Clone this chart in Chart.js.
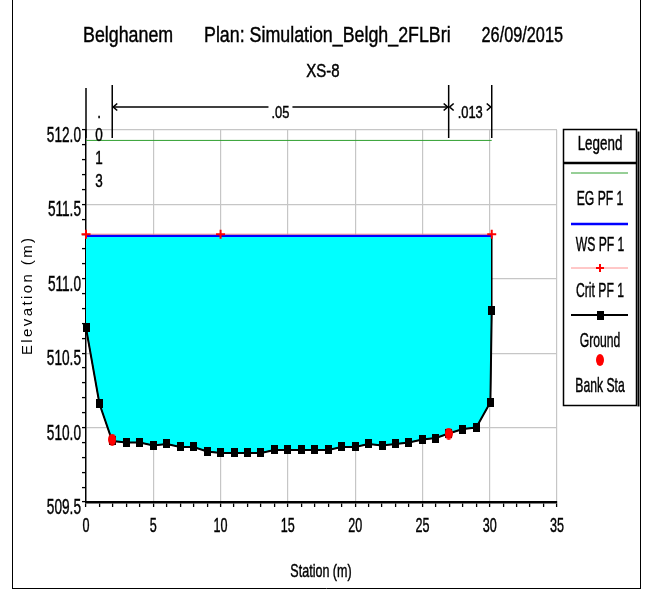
<!DOCTYPE html>
<html>
<head>
<meta charset="utf-8">
<title>XS-8</title>
<script src="https://cdn.jsdelivr.net/npm/chart.js@4.4.1/dist/chart.umd.min.js"></script>
<style>
    html, body { margin: 0; padding: 0; background: #fff; }
    #wrap { width: 645px; height: 590px; }
</style>
</head>
<body>
<div id="wrap"><canvas id="xsChart" width="645" height="590"></canvas></div>
<script>
/* -------------------------------------------------------------------------- */
/*  DONNÉES - profil XS-8                                                     */
/* -------------------------------------------------------------------------- */

const GROUND_STA  = [0, 1, 1.95, 3, 4, 5, 6, 7, 8, 9, 10, 11, 12, 13, 14, 15, 16, 17, 18,
                     19, 20, 21, 22, 23, 24, 25, 26, 26.95, 28, 29, 30.05, 30.15];
const GROUND_ELEV = [510.67, 510.16, 509.91, 509.90, 509.90, 509.88, 509.89, 509.87, 509.87,
                     509.84, 509.83, 509.83, 509.83, 509.83, 509.85, 509.85, 509.85, 509.85,
                     509.85, 509.87, 509.87, 509.89, 509.88, 509.89, 509.90, 509.92, 509.93,
                     509.96, 509.99, 510.00, 510.17, 510.79];

const BANK_STA  = [1.95, 26.95];
const BANK_ELEV = [509.92, 509.96];

const EDGE_STA  = [0, 30.15];          // limites de la ligne d'eau
const WS_ELEV   = 511.29;              // WS PF 1
const EG_ELEV   = 511.93;              // EG PF 1
const CRIT_STA  = [0, 10, 30.15];
const CRIT_ELEV = 511.30;              // Crit PF 1

const N_STA = [0, 1.95, 26.95, 30.15]; // coefficients de Manning
const N_VAL = ['.013', '.05', '.013'];

const Y_LABELS = [509.5, 510.0, 510.5, 511.0, 511.5, 512.0];
const X_LABELS = [0, 5, 10, 15, 20, 25, 30, 35];

const TITLE_PARTS = ['Belghanem', 'Plan: Simulation_Belgh_2FLBri', '26/09/2015'];
const SUBTITLE = 'XS-8';
const LEGEND_ITEMS = ['EG PF 1', 'WS PF 1', 'Crit PF 1', 'Ground', 'Bank Sta'];

/* -------------------------------------------------------------------------- */
/*  UTILITAIRES                                                               */
/* -------------------------------------------------------------------------- */

const FONT = '"Liberation Sans", Arial, sans-serif';
const GRID_GRAY = '#c6c6c6';
const CLEAR = 'rgba(0,0,0,0)';

function pts(xs, ys) {
    return xs.map((x, i) => ({ x, y: Array.isArray(ys) ? ys[i] : ys }));
}

function isStep(v, step) {
    const k = v / step;
    return Math.abs(k - Math.round(k)) < 1e-6;
}

// texte condensé horizontalement (police étroite), un peu épaissi
function sqText(ctx, txt, x, base, size, sx, align) {
    ctx.save();
    ctx.font = `${size}px ${FONT}`;
    ctx.fillStyle = '#000';
    ctx.strokeStyle = '#000';
    ctx.lineWidth = 0.45;
    ctx.textBaseline = 'alphabetic';
    ctx.textAlign = align || 'left';
    ctx.translate(x, base);
    ctx.scale(sx, 1);
    ctx.fillText(txt, 0, 0);
    ctx.strokeText(txt, 0, 0);
    ctx.restore();
}

function makeMarker(w, h, color, round) {
    const c = document.createElement('canvas');
    c.width = w; c.height = h;
    const g = c.getContext('2d');
    g.fillStyle = color;
    if (round) {
        g.beginPath();
        g.ellipse(w / 2, h / 2, w / 2, h / 2, 0, 0, Math.PI * 2);
        g.fill();
    } else {
        g.fillRect(0, 0, w, h);
    }
    return c;
}

const groundMark = makeMarker(7, 9, '#000', false);
const bankMark = makeMarker(8, 12, '#ff0000', true);

// polygone de l'eau : ligne d'eau puis fond parcouru à l'envers
const waterShape = pts(EDGE_STA, WS_ELEV).concat(pts(GROUND_STA, GROUND_ELEV).reverse());

/* -------------------------------------------------------------------------- */
/*  HABILLAGE : titres, graduations, rugosités, légende                       */
/* -------------------------------------------------------------------------- */

function line(ctx, x1, y1, x2, y2, color, w) {
    ctx.save();
    ctx.strokeStyle = color;
    ctx.lineWidth = w;
    ctx.beginPath();
    ctx.moveTo(x1, y1);
    ctx.lineTo(x2, y2);
    ctx.stroke();
    ctx.restore();
}

function arrowHead(ctx, x, y, dir) {
    ctx.save();
    ctx.strokeStyle = '#000';
    ctx.lineWidth = 1.6;
    ctx.beginPath();
    ctx.moveTo(x + dir * 5, y - 3.5);
    ctx.lineTo(x + dir * 1, y);
    ctx.lineTo(x + dir * 5, y + 3.5);
    ctx.stroke();
    ctx.restore();
}

const decorPlugin = {
    id: 'decor',
    afterDraw(chart) {
        const ctx = chart.ctx;
        const xs = chart.scales.x, ys = chart.scales.y;

        // cadre
        line(ctx, 12.5, 0, 12.5, 588, '#000', 1);
        line(ctx, 640.5, 0, 640.5, 588, '#000', 1);
        line(ctx, 12, 588.5, 641, 588.5, '#000', 1);

        // titres
        sqText(ctx, TITLE_PARTS[0], 83, 42, 22, 0.81, 'left');
        sqText(ctx, TITLE_PARTS[1], 204, 42, 22, 0.81, 'left');
        sqText(ctx, TITLE_PARTS[2], 563, 42, 22, 0.74, 'right');
        sqText(ctx, SUBTITLE, 323, 77, 19, 0.79, 'center');

        // graduations
        Y_LABELS.forEach(v => {
            sqText(ctx, v.toFixed(1), 81, ys.getPixelForValue(v) + 12, 22, 0.62, 'right');
        });
        X_LABELS.forEach(v => {
            sqText(ctx, String(v), xs.getPixelForValue(v), 532, 21, 0.6, 'center');
        });
        sqText(ctx, 'Station (m)', 321, 577, 19, 0.66, 'center');

        // titre vertical avec espacement des lettres
        ctx.save();
        ctx.font = `15px ${FONT}`;
        ctx.fillStyle = '#000';
        ctx.textBaseline = 'alphabetic';
        const yTitle = 'Elevation (m)';
        const gap = 2.4;
        const widths = [...yTitle].map(ch => ctx.measureText(ch).width);
        const total = widths.reduce((a, b) => a + b, 0) + gap * (widths.length - 1);
        ctx.translate(27, 296.5);
        ctx.rotate(-Math.PI / 2);
        let cx = -total / 2;
        [...yTitle].forEach((ch, i) => {
            ctx.fillText(ch, cx, 5.4);
            cx += widths[i] + gap;
        });
        ctx.restore();

        // rugosités de Manning au-dessus du profil
        const arrowY = 107;
        N_STA.forEach((s, i) => {
            const px = xs.getPixelForValue(s);
            line(ctx, px, i === 0 ? 88 : 85, px, 138, '#000', 1.5);
        });
        for (let i = 0; i < N_VAL.length; i++) {
            const x1 = xs.getPixelForValue(N_STA[i]);
            const x2 = xs.getPixelForValue(N_STA[i + 1]);
            const mid = (x1 + x2) / 2;
            ctx.font = `17px ${FONT}`;
            const tw = ctx.measureText(N_VAL[i]).width * 0.76;
            if (x2 - x1 < tw + 14) {
                // intervalle trop étroit : texte vertical
                [...N_VAL[i]].forEach((ch, k) => {
                    sqText(ctx, ch, mid, 118 + k * 23, 18, 0.75, 'center');
                });
                continue;
            }
            arrowHead(ctx, x1, arrowY, 1);
            arrowHead(ctx, x2, arrowY, -1);
            const gapL = mid - tw / 2 - 3, gapR = mid + tw / 2 + 3;
            if (gapL > x1 + 6) {
                line(ctx, x1 + 1, arrowY, gapL, arrowY, '#000', 1.5);
                line(ctx, gapR, arrowY, x2 - 1, arrowY, '#000', 1.5);
            }
            sqText(ctx, N_VAL[i], mid, 118, 17, 0.76, 'center');
        }

        // légende
        const L = 563.5, R = 636.5, T = 129.5, B = 405.5, C = 600;
        ctx.save();
        ctx.strokeStyle = '#000';
        ctx.lineWidth = 1.5;
        ctx.strokeRect(L, T, R - L, B - T);
        ctx.restore();
        line(ctx, 638.5, T + 2, 638.5, B + 1, '#000', 2);
        line(ctx, L, 163, R, 163, '#000', 2.5);
        sqText(ctx, 'Legend', C, 150, 20, 0.67, 'center');

        line(ctx, 571, 173, 628, 173, '#2f9f2f', 1);
        sqText(ctx, LEGEND_ITEMS[0], C, 205, 21, 0.58, 'center');
        line(ctx, 571, 224, 628, 224, '#0000ff', 2.5);
        sqText(ctx, LEGEND_ITEMS[1], C, 250.5, 21, 0.58, 'center');
        line(ctx, 571, 268, 628, 268, '#ff9090', 1);
        line(ctx, C - 4, 268, C + 4, 268, '#ff0000', 2);
        line(ctx, C, 264, C, 272, '#ff0000', 2);
        sqText(ctx, LEGEND_ITEMS[2], C, 297, 21, 0.58, 'center');
        line(ctx, 571, 315, 628, 315, '#000', 2);
        ctx.drawImage(groundMark, C - 3.5, 315 - 4.5);
        sqText(ctx, LEGEND_ITEMS[3], C, 347, 21, 0.58, 'center');
        ctx.drawImage(bankMark, C - 4, 360 - 6);
        sqText(ctx, LEGEND_ITEMS[4], C, 392, 21, 0.58, 'center');
    }
};

/* -------------------------------------------------------------------------- */
/*  GRAPHIQUE                                                                 */
/* -------------------------------------------------------------------------- */

new Chart(document.getElementById('xsChart'), {
    type: 'scatter',
    data: {
        datasets: [
            {
                label: 'Bank Sta',
                data: pts(BANK_STA, BANK_ELEV),
                pointStyle: bankMark,
                pointRadius: 5,
                showLine: false,
                clip: false,
                order: 0
            },
            {
                label: 'Ground',
                data: pts(GROUND_STA, GROUND_ELEV),
                showLine: true,
                borderColor: '#000',
                borderWidth: 2,
                pointStyle: groundMark,
                pointRadius: 5,
                clip: false,
                order: 1
            },
            {
                label: 'Crit PF 1',
                data: pts(CRIT_STA, CRIT_ELEV),
                showLine: true,
                borderColor: '#ff9090',
                borderWidth: 1,
                pointStyle: 'cross',
                pointRadius: 4.5,
                pointBorderColor: '#ff0000',
                pointBorderWidth: 2,
                clip: false,
                order: 2
            },
            {
                label: 'WS PF 1',
                data: pts(EDGE_STA, WS_ELEV),
                showLine: true,
                borderColor: '#0000ff',
                borderWidth: 2.5,
                pointRadius: 0,
                order: 3
            },
            {
                label: 'EG PF 1',
                data: pts(EDGE_STA, EG_ELEV),
                showLine: true,
                borderColor: '#2f9f2f',
                borderWidth: 1,
                pointRadius: 0,
                order: 4
            },
            {
                label: 'Water',
                data: waterShape,
                showLine: true,
                fill: 'shape',
                backgroundColor: '#00ffff',
                borderColor: '#000',
                borderWidth: 1,
                pointRadius: 0,
                order: 5
            }
        ]
    },
    options: {
        responsive: false,
        animation: false,
        events: [],
        layout: { padding: { top: 130, right: 88, left: 0, bottom: 0 } },
        plugins: {
            legend: { display: false },
            title: { display: false },
            tooltip: { enabled: false }
        },
        scales: {
            x: {
                type: 'linear',
                min: 0,
                max: 35,
                ticks: { stepSize: 1, display: false, autoSkip: false },
                grid: {
                    color: c => (c.tick && c.tick.value > 0 && isStep(c.tick.value, 5)) ? GRID_GRAY : CLEAR,
                    tickColor: '#000',
                    tickLength: 5,
                    tickWidth: 1.3,
                    lineWidth: 1.2
                },
                border: { color: '#000', width: 2.5 },
                afterFit: s => { s.height = 88; }
            },
            y: {
                type: 'linear',
                min: 509.5,
                max: 512.0,
                ticks: { stepSize: 0.1, display: false, autoSkip: false },
                grid: {
                    color: c => (c.tick && c.tick.value > 509.6 && isStep(c.tick.value, 0.5)) ? GRID_GRAY : CLEAR,
                    tickColor: '#000',
                    tickLength: 4,
                    tickWidth: 1.3,
                    lineWidth: 1.2
                },
                border: { color: '#000', width: 1.5 },
                afterFit: s => { s.width = 86; }
            }
        }
    },
    plugins: [decorPlugin]
});
</script>
</body>
</html>
